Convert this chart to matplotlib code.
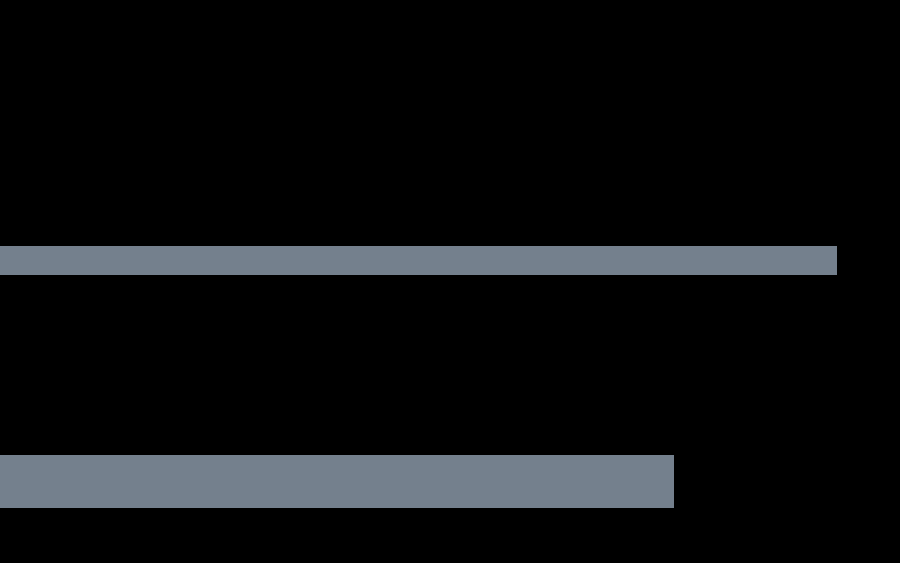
import matplotlib
matplotlib.use('Agg')
import matplotlib.pyplot as plt

# bar lengths (in pixel-like units of a 0..900 axis)
values = [837, 674]

# layout of the two bars (vertical centre and thickness)
centers = [260.5, 481.5]
heights = [29.5, 53]

fig = plt.figure(figsize=(9, 5.63), dpi=100, facecolor='black')
ax = fig.add_axes([0, 0, 1, 1])
ax.set_facecolor('black')

ax.barh(centers, values, height=heights, left=0, color='#74808d')

ax.set_xlim(0, 900)
ax.set_ylim(563, 0)
ax.axis('off')

fig.savefig('out.png', dpi=100, facecolor='black')
